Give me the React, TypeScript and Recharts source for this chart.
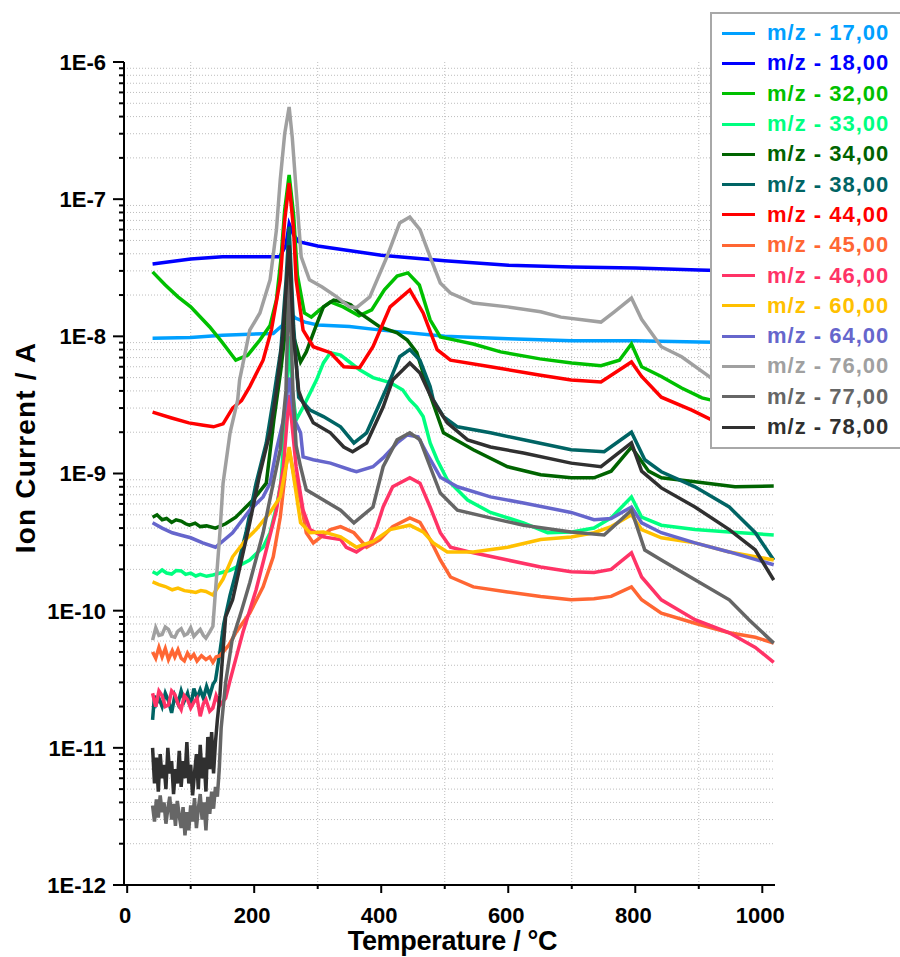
import React from "react";
import {
  CartesianGrid,
  Label,
  Legend,
  Line,
  LineChart,
  XAxis,
  YAxis,
} from "recharts";

// [temperature °C, ion current A]
const mz17 = [[40, 9.7e-9], [100, 9.8e-9], [150, 1.02e-8], [230, 1.05e-8], [245, 1.21e-8], [255, 1.5e-8], [265, 1.36e-8], [280, 1.27e-8], [300, 1.21e-8], [350, 1.18e-8], [400, 1.11e-8], [500, 1.0e-8], [600, 9.6e-9], [700, 9.3e-9], [800, 9.3e-9], [900, 9.1e-9], [1018, 8.9e-9]];
const mz18 = [[40, 3.37e-8], [100, 3.66e-8], [150, 3.8e-8], [240, 3.8e-8], [250, 4.6e-8], [255, 6.6e-8], [262, 5.5e-8], [270, 4.9e-8], [300, 4.56e-8], [400, 3.9e-8], [500, 3.55e-8], [600, 3.3e-8], [700, 3.2e-8], [800, 3.15e-8], [900, 3.05e-8], [1018, 2.95e-8]];
const mz32 = [[40, 2.95e-8], [60, 2.37e-8], [80, 1.94e-8], [100, 1.64e-8], [130, 1.17e-8], [150, 9.0e-9], [171, 6.7e-9], [190, 7.3e-9], [209, 9.4e-9], [225, 1.2e-8], [235, 1.84e-8], [242, 3.6e-8], [248, 8.3e-8], [255, 1.5e-7], [262, 7.7e-8], [268, 2.8e-8], [279, 1.48e-8], [290, 1.38e-8], [303, 1.56e-8], [320, 1.78e-8], [340, 1.64e-8], [365, 1.41e-8], [385, 1.56e-8], [405, 2.18e-8], [425, 2.75e-8], [442, 2.9e-8], [460, 2.37e-8], [477, 1.32e-8], [493, 9.9e-9], [520, 9.3e-9], [545, 8.8e-9], [588, 7.7e-9], [650, 6.85e-9], [700, 6.4e-9], [746, 6.1e-9], [775, 6.7e-9], [794, 8.8e-9], [810, 6.0e-9], [841, 5.1e-9], [873, 4.2e-9], [905, 3.56e-9], [960, 3.1e-9], [1018, 2.7e-9]];
const mz33 = [[40, 1.92e-10], [47, 1.85e-10], [55, 1.98e-10], [62, 1.88e-10], [70, 1.85e-10], [77, 1.96e-10], [85, 1.95e-10], [92, 1.84e-10], [100, 1.88e-10], [108, 1.79e-10], [115, 1.84e-10], [125, 1.78e-10], [135, 1.82e-10], [162, 1.97e-10], [193, 2.34e-10], [214, 2.9e-10], [225, 3.7e-10], [235, 5.7e-10], [242, 8.5e-10], [250, 3e-9], [255, 1.0e-8], [260, 4e-9], [266, 2.46e-9], [277, 3.05e-9], [298, 4.8e-9], [309, 6.4e-9], [320, 7.6e-9], [336, 7.3e-9], [350, 6.5e-9], [366, 5.7e-9], [387, 5.0e-9], [414, 4.6e-9], [434, 4.06e-9], [445, 3.44e-9], [456, 3.05e-9], [466, 2.6e-9], [477, 1.67e-9], [488, 1.26e-9], [504, 9.0e-10], [536, 6.4e-10], [572, 5.2e-10], [624, 4.37e-10], [662, 3.7e-10], [700, 3.75e-10], [735, 4.0e-10], [762, 4.75e-10], [794, 6.75e-10], [810, 4.8e-10], [841, 4.2e-10], [894, 3.9e-10], [948, 3.75e-10], [1018, 3.56e-10]];
const mz34 = [[40, 4.8e-10], [47, 5.0e-10], [55, 4.6e-10], [62, 4.7e-10], [70, 4.4e-10], [77, 4.6e-10], [85, 4.5e-10], [92, 4.3e-10], [98, 4.2e-10], [107, 4.35e-10], [115, 4.1e-10], [125, 4.15e-10], [139, 4.0e-10], [155, 4.3e-10], [171, 4.8e-10], [198, 6.4e-10], [219, 8.5e-10], [231, 2.46e-9], [242, 5.7e-9], [250, 1.2e-8], [255, 2.5e-8], [262, 1.0e-8], [273, 6.5e-9], [282, 7.7e-9], [298, 1.21e-8], [309, 1.64e-8], [325, 1.84e-8], [340, 1.78e-8], [352, 1.7e-8], [366, 1.48e-8], [398, 1.17e-8], [425, 1.06e-8], [441, 9.4e-9], [456, 7.6e-9], [477, 3.74e-9], [498, 1.98e-9], [545, 1.49e-9], [599, 1.12e-9], [651, 9.8e-10], [699, 9.3e-10], [735, 9.3e-10], [762, 1.04e-9], [794, 1.56e-9], [821, 1.04e-9], [841, 9.3e-10], [894, 8.7e-10], [957, 8.0e-10], [1018, 8.1e-10]];
const mz38 = [[40, 1.6e-11], [43, 2.4e-11], [46, 2.1e-11], [50, 2.3e-11], [55, 2.0e-11], [60, 2.5e-11], [65, 2.2e-11], [70, 1.8e-11], [75, 2.4e-11], [80, 2.1e-11], [85, 2.6e-11], [90, 2.2e-11], [95, 2.5e-11], [100, 2.0e-11], [105, 2.7e-11], [110, 2.3e-11], [115, 2.65e-11], [120, 2.3e-11], [125, 2.8e-11], [130, 2.4e-11], [135, 2.9e-11], [139, 3.1e-11], [146, 5e-11], [152, 8e-11], [162, 1.3e-10], [170, 1.8e-10], [187, 3.7e-10], [203, 8.5e-10], [219, 1.67e-9], [230, 3.44e-9], [242, 8e-9], [250, 2.5e-8], [255, 6.3e-8], [262, 1.2e-8], [270, 3.6e-9], [288, 2.9e-9], [309, 2.6e-9], [336, 2.19e-9], [357, 1.67e-9], [377, 1.98e-9], [393, 2.9e-9], [414, 4.8e-9], [429, 7.1e-9], [445, 8.0e-9], [461, 6.7e-9], [477, 4.3e-9], [482, 3.44e-9], [498, 2.6e-9], [520, 2.19e-9], [572, 1.98e-9], [624, 1.76e-9], [699, 1.49e-9], [751, 1.44e-9], [794, 2.0e-9], [815, 1.26e-9], [841, 1.03e-9], [894, 8.0e-10], [948, 5.7e-10], [989, 3.7e-10], [1018, 2.34e-10]];
const mz44 = [[40, 2.8e-9], [70, 2.54e-9], [97, 2.34e-9], [120, 2.25e-9], [136, 2.19e-9], [151, 2.3e-9], [166, 3.0e-9], [180, 3.4e-9], [193, 4.3e-9], [214, 6.7e-9], [227, 1.11e-8], [241, 2.58e-8], [248, 7.0e-8], [255, 1.31e-7], [262, 6e-8], [266, 2.58e-8], [277, 1.11e-8], [293, 8.4e-9], [320, 7.6e-9], [341, 6.0e-9], [366, 5.9e-9], [387, 8.4e-9], [414, 1.64e-8], [445, 2.18e-8], [466, 1.48e-8], [488, 8.0e-9], [509, 6.7e-9], [572, 6.0e-9], [651, 5.2e-9], [699, 4.8e-9], [746, 4.65e-9], [794, 6.5e-9], [810, 5.1e-9], [841, 3.6e-9], [889, 2.9e-9], [920, 2.46e-9], [1018, 2.0e-9]];
const mz45 = [[40, 5.0e-11], [45, 4.5e-11], [50, 5.4e-11], [55, 4.6e-11], [60, 5.3e-11], [65, 4.4e-11], [71, 5.1e-11], [75, 4.6e-11], [80, 5.2e-11], [85, 4.5e-11], [90, 4.3e-11], [95, 4.9e-11], [100, 4.5e-11], [105, 4.8e-11], [110, 4.3e-11], [117, 4.7e-11], [124, 4.4e-11], [130, 4.6e-11], [135, 4.2e-11], [140, 4.6e-11], [146, 4.7e-11], [160, 5.6e-11], [171, 6.9e-11], [193, 9.6e-11], [214, 1.49e-10], [230, 2.47e-10], [241, 4.8e-10], [250, 1.12e-9], [255, 1.5e-9], [262, 1.0e-9], [273, 6.4e-10], [282, 3.7e-10], [293, 3.12e-10], [320, 3.9e-10], [336, 4.1e-10], [357, 3.7e-10], [377, 2.9e-10], [398, 3.3e-10], [418, 4.1e-10], [445, 4.75e-10], [461, 4.4e-10], [477, 3.3e-10], [493, 2.34e-10], [509, 1.76e-10], [545, 1.49e-10], [599, 1.37e-10], [651, 1.27e-10], [699, 1.2e-10], [735, 1.22e-10], [762, 1.27e-10], [794, 1.49e-10], [810, 1.2e-10], [841, 9.6e-11], [894, 8.1e-11], [948, 6.9e-11], [989, 6.4e-11], [1018, 5.8e-11]];
const mz46 = [[40, 2.5e-11], [45, 2.0e-11], [50, 2.6e-11], [55, 2.4e-11], [60, 2.0e-11], [65, 2.05e-11], [70, 2.6e-11], [75, 2.45e-11], [80, 2.1e-11], [85, 1.9e-11], [90, 2.4e-11], [95, 2.25e-11], [100, 1.95e-11], [105, 2.15e-11], [110, 2.3e-11], [115, 1.7e-11], [120, 2.1e-11], [124, 2.25e-11], [130, 1.85e-11], [135, 1.95e-11], [140, 2.4e-11], [146, 2.05e-11], [155, 2.3e-11], [162, 3.1e-11], [182, 6.9e-11], [203, 1.42e-10], [219, 2.77e-10], [235, 5.4e-10], [246, 1.12e-9], [255, 3.74e-9], [266, 1.12e-9], [277, 5.4e-10], [288, 3.9e-10], [309, 3.45e-10], [336, 3.3e-10], [345, 2.9e-10], [361, 2.68e-10], [382, 3.12e-10], [393, 4.1e-10], [403, 5.7e-10], [418, 8.0e-10], [445, 9.3e-10], [461, 8.5e-10], [477, 5.7e-10], [493, 3.7e-10], [509, 2.9e-10], [545, 2.64e-10], [599, 2.34e-10], [651, 2.08e-10], [699, 1.92e-10], [735, 1.9e-10], [762, 2.0e-10], [794, 2.64e-10], [810, 1.76e-10], [841, 1.2e-10], [894, 8.6e-11], [948, 6.9e-11], [989, 5.4e-11], [1018, 4.2e-11]];
const mz60 = [[40, 1.62e-10], [50, 1.55e-10], [60, 1.5e-10], [71, 1.42e-10], [80, 1.46e-10], [90, 1.4e-10], [100, 1.38e-10], [108, 1.36e-10], [116, 1.4e-10], [124, 1.38e-10], [135, 1.3e-10], [151, 1.7e-10], [166, 2.47e-10], [187, 3.3e-10], [203, 3.9e-10], [225, 5.2e-10], [241, 6.75e-10], [250, 1.12e-9], [255, 1.56e-9], [266, 7.2e-10], [273, 4.37e-10], [288, 3.7e-10], [309, 3.75e-10], [336, 3.45e-10], [361, 2.9e-10], [387, 3.2e-10], [414, 3.9e-10], [445, 4.2e-10], [466, 3.75e-10], [482, 3.12e-10], [504, 2.68e-10], [545, 2.68e-10], [599, 2.9e-10], [651, 3.3e-10], [699, 3.45e-10], [735, 3.7e-10], [762, 4.1e-10], [794, 5.0e-10], [810, 3.9e-10], [841, 3.4e-10], [894, 3.12e-10], [948, 2.68e-10], [1018, 2.34e-10]];
const mz64 = [[40, 4.37e-10], [55, 4.0e-10], [71, 3.7e-10], [85, 3.55e-10], [100, 3.4e-10], [119, 3.12e-10], [139, 2.9e-10], [166, 3.7e-10], [193, 5.4e-10], [214, 6.75e-10], [225, 8.5e-10], [235, 1.49e-9], [246, 2.46e-9], [255, 5e-9], [263, 2.5e-9], [273, 1.98e-9], [277, 1.32e-9], [293, 1.26e-9], [320, 1.19e-9], [352, 1.06e-9], [361, 1.03e-9], [387, 1.12e-9], [403, 1.3e-9], [425, 1.67e-9], [441, 1.91e-9], [458, 1.85e-9], [472, 1.4e-9], [493, 9.4e-10], [520, 8.0e-10], [572, 6.75e-10], [624, 6.1e-10], [699, 5.2e-10], [735, 4.6e-10], [762, 4.7e-10], [794, 5.7e-10], [810, 4.37e-10], [841, 3.7e-10], [894, 3.12e-10], [948, 2.68e-10], [1018, 2.16e-10]];
const mz76 = [[40, 6.1e-11], [45, 7.5e-11], [50, 6.6e-11], [55, 6.7e-11], [60, 7.6e-11], [65, 7.3e-11], [70, 6.5e-11], [75, 6.4e-11], [80, 7.1e-11], [85, 7.4e-11], [90, 6.6e-11], [95, 6.8e-11], [100, 7.5e-11], [105, 6.5e-11], [110, 6.9e-11], [115, 7.3e-11], [120, 6.6e-11], [124, 6.3e-11], [130, 7.0e-11], [135, 7.7e-11], [138, 1.2e-10], [146, 3.7e-10], [151, 8.5e-10], [162, 1.98e-9], [174, 3.44e-9], [177, 4.8e-9], [193, 1.11e-8], [209, 1.48e-8], [225, 2.58e-8], [235, 5.97e-8], [241, 1.38e-7], [248, 3e-7], [255, 4.7e-7], [260, 2.8e-7], [266, 1.17e-7], [274, 3.8e-8], [287, 2.58e-8], [307, 2.29e-8], [330, 1.94e-8], [350, 1.64e-8], [361, 1.62e-8], [382, 1.94e-8], [409, 3.8e-8], [429, 6.7e-8], [445, 7.4e-8], [461, 6.0e-8], [477, 3.8e-8], [493, 2.45e-8], [509, 2.07e-8], [545, 1.75e-8], [599, 1.64e-8], [651, 1.51e-8], [683, 1.38e-8], [746, 1.27e-8], [767, 1.51e-8], [794, 1.9e-8], [810, 1.33e-8], [841, 8.4e-9], [873, 7.1e-9], [916, 5.1e-9], [960, 3.5e-9], [1018, 2.4e-9]];
const mz77 = [[40, 3.8e-12], [43, 2.9e-12], [46, 4.2e-12], [49, 3.1e-12], [52, 4.5e-12], [55, 3.4e-12], [58, 4.0e-12], [61, 2.8e-12], [64, 3.6e-12], [67, 4.4e-12], [70, 3.0e-12], [73, 3.9e-12], [76, 2.7e-12], [79, 4.1e-12], [82, 3.2e-12], [85, 2.6e-12], [88, 3.7e-12], [91, 2.3e-12], [94, 3.4e-12], [97, 2.5e-12], [100, 3.8e-12], [103, 2.9e-12], [106, 4.3e-12], [109, 2.6e-12], [112, 3.6e-12], [115, 4.6e-12], [118, 3.0e-12], [121, 4.0e-12], [124, 2.5e-12], [127, 4.4e-12], [130, 3.3e-12], [133, 4.8e-12], [136, 3.6e-12], [139, 5.2e-12], [142, 4.4e-12], [145, 7e-12], [148, 1.4e-11], [155, 3.0e-11], [165, 6e-11], [180, 1.0e-10], [193, 1.6e-10], [214, 3.7e-10], [230, 8.5e-10], [241, 1.49e-9], [250, 4e-9], [255, 3e-8], [261, 4e-9], [266, 1.6e-9], [273, 1.12e-9], [282, 7.6e-10], [309, 6.4e-10], [336, 5.4e-10], [357, 4.37e-10], [387, 5.7e-10], [403, 1.12e-9], [425, 1.76e-9], [445, 1.98e-9], [461, 1.76e-9], [477, 1.12e-9], [493, 7.2e-10], [520, 5.4e-10], [572, 4.75e-10], [624, 4.2e-10], [699, 3.75e-10], [751, 3.56e-10], [794, 5.4e-10], [815, 2.77e-10], [841, 2.34e-10], [894, 1.68e-10], [948, 1.2e-10], [979, 8.6e-11], [1018, 5.8e-11]];
const mz78 = [[40, 1.0e-11], [43, 5.5e-12], [46, 8.5e-12], [49, 4.8e-12], [52, 9e-12], [55, 6e-12], [58, 7.5e-12], [61, 5e-12], [64, 1.0e-11], [67, 6.5e-12], [70, 8e-12], [73, 4.6e-12], [76, 7e-12], [79, 5.5e-12], [82, 9.5e-12], [85, 5.2e-12], [88, 8e-12], [91, 6e-12], [94, 1.1e-11], [97, 5.5e-12], [100, 7.5e-12], [103, 4.5e-12], [106, 6.5e-12], [109, 9e-12], [112, 5e-12], [115, 1.05e-11], [118, 6e-12], [121, 8.5e-12], [124, 4.8e-12], [127, 1.2e-11], [130, 7e-12], [133, 1.3e-11], [136, 6.5e-12], [139, 1.1e-11], [142, 1.6e-11], [146, 2.4e-11], [149, 3.9e-11], [155, 9.0e-11], [166, 1.2e-10], [193, 4.37e-10], [209, 1.0e-9], [225, 2.0e-9], [235, 4e-9], [245, 1.0e-8], [251, 2.5e-8], [255, 4.6e-8], [262, 1.0e-8], [270, 4.0e-9], [277, 3.27e-9], [293, 2.34e-9], [320, 1.98e-9], [341, 1.56e-9], [355, 1.44e-9], [377, 1.67e-9], [403, 3.05e-9], [418, 4.8e-9], [445, 6.4e-9], [461, 5.4e-9], [477, 3.74e-9], [488, 3.05e-9], [504, 2.34e-9], [536, 1.76e-9], [572, 1.56e-9], [624, 1.41e-9], [699, 1.19e-9], [746, 1.12e-9], [794, 1.67e-9], [810, 1.04e-9], [841, 7.85e-10], [894, 5.7e-10], [948, 3.9e-10], [989, 2.77e-10], [1018, 1.67e-10]];

const series = [
  { name: "m/z - 17,00", color: "#00a0ff", data: mz17 },
  { name: "m/z - 18,00", color: "#0000ff", data: mz18 },
  { name: "m/z - 32,00", color: "#00c000", data: mz32 },
  { name: "m/z - 33,00", color: "#00ff80", data: mz33 },
  { name: "m/z - 34,00", color: "#006400", data: mz34 },
  { name: "m/z - 38,00", color: "#006464", data: mz38 },
  { name: "m/z - 44,00", color: "#ff0000", data: mz44 },
  { name: "m/z - 45,00", color: "#ff6633", data: mz45 },
  { name: "m/z - 46,00", color: "#ff3366", data: mz46 },
  { name: "m/z - 60,00", color: "#ffc000", data: mz60 },
  { name: "m/z - 64,00", color: "#6666cc", data: mz64 },
  { name: "m/z - 76,00", color: "#a0a0a0", data: mz76 },
  { name: "m/z - 77,00", color: "#666666", data: mz77 },
  { name: "m/z - 78,00", color: "#303030", data: mz78 },
];

const decades = [1e-12, 1e-11, 1e-10, 1e-9, 1e-8, 1e-7, 1e-6];
const minorSteps = [2, 3, 4, 5, 6, 7, 8, 9];
const minorValues = decades.slice(0, -1).flatMap((d) => minorSteps.map((k) => k * d));
const yTicks = [...decades, ...minorValues];
const xTicks = [0, 100, 200, 300, 400, 500, 600, 700, 800, 900, 1000];
const xGrid = [100, 300, 500, 700, 900];

const FONT = "'Liberation Sans', Arial, sans-serif";

const YTick = (props: any) => {
  const { x, y, payload } = props;
  const v = payload.value;
  const e = Math.round(Math.log10(v));
  const major = Math.abs(v / Math.pow(10, e) - 1) < 1e-6;
  // x is the label anchor: axis - tickSize(11) - tickMargin(7)
  return (
    <g>
      <line x1={x + 7 + (major ? 0 : 6)} x2={x + 18} y1={y} y2={y} stroke="#000" strokeWidth={2} />
      {major && (
        <text x={x} y={y} dy="0.36em" textAnchor="end" fontFamily={FONT} fontWeight={700} fontSize={22} fill="#000">
          {`1E${e}`}
        </text>
      )}
    </g>
  );
};

const XTick = (props: any) => {
  const { x, y, payload } = props;
  const v = payload.value;
  const major = v % 200 === 0;
  const axisY = y - 22;
  return (
    <g>
      <line x1={x} x2={x} y1={axisY} y2={axisY + (major ? 8 : 4)} stroke="#000" strokeWidth={2} />
      {major && (
        <text x={x - 2} y={y + 16} textAnchor="middle" fontFamily={FONT} fontWeight={700} fontSize={22} fill="#000">
          {v}
        </text>
      )}
    </g>
  );
};

const renderLegend = (props: any) => {
  const items = props.payload || [];
  return (
    <div
      style={{
        boxSizing: "border-box",
        width: 200,
        height: 437,
        border: "2px solid #a8a8a8",
        background: "#fff",
        paddingTop: 4,
      }}
    >
      {items.map((it: any) => (
        <div key={it.value} style={{ display: "flex", alignItems: "center", height: 30.3 }}>
          <span style={{ display: "inline-block", width: 33, height: 3, background: it.color, marginLeft: 10 }} />
          <span
            style={{
              marginLeft: 12,
              color: it.color,
              fontFamily: FONT,
              fontWeight: 700,
              fontSize: 22,
              letterSpacing: 1,
              whiteSpace: "pre",
              lineHeight: "24px",
            }}
          >
            {it.value}
          </span>
        </div>
      ))}
    </div>
  );
};

export default function App() {
  return (
    <div style={{ position: "absolute", left: 0, top: 0, width: 900, height: 957, overflow: "hidden", background: "#fff" }}>
      <LineChart width={900} height={957} margin={{ top: 62, right: 125, bottom: 2, left: 10 }}>
        <CartesianGrid
          horizontalValues={minorValues}
          verticalValues={xGrid}
          stroke="#bdbdbd"
          strokeDasharray="1 2"
        />
        <XAxis
          type="number"
          dataKey="t"
          domain={[-5, 1020]}
          allowDataOverflow
          ticks={xTicks}
          interval={0}
          tick={<XTick />}
          tickLine={false}
          tickSize={8}
          tickMargin={14}
          height={70}
          axisLine={{ stroke: "#000", strokeWidth: 2 }}
        >
          <Label
            content={(p: any) => {
              const vb = p.viewBox || {};
              return (
                <text
                  x={vb.x + vb.width / 2 + 3}
                  y={vb.y + 65}
                  textAnchor="middle"
                  fontFamily={FONT}
                  fontWeight={700}
                  fontSize={27}
                  letterSpacing={-0.3}
                  fill="#000"
                >
                  Temperature / °C
                </text>
              );
            }}
          />
        </XAxis>
        <YAxis
          type="number"
          scale="log"
          domain={[1e-12, 1e-6]}
          allowDataOverflow
          ticks={yTicks}
          interval={0}
          tick={<YTick />}
          tickLine={false}
          tickSize={11}
          tickMargin={7}
          width={114}
          axisLine={{ stroke: "#000", strokeWidth: 2 }}
        >
          <Label
            content={(p: any) => {
              const vb = p.viewBox || {};
              const cx = vb.x + 15;
              const cy = vb.y + vb.height / 2 - 26;
              return (
                <text
                  x={cx}
                  y={cy}
                  dy="0.36em"
                  transform={`rotate(-90 ${cx} ${cy})`}
                  textAnchor="middle"
                  fontFamily={FONT}
                  fontWeight={700}
                  fontSize={28}
                  letterSpacing={1.2}
                  fill="#000"
                >
                  Ion Current / A
                </text>
              );
            }}
          />
        </YAxis>
        <Legend
          layout="vertical"
          align="center"
          verticalAlign="middle"
          content={renderLegend}
          wrapperStyle={{ left: 710, top: 12, width: 200 }}
        />
        {series.map((s) => (
          <Line
            key={s.name}
            name={s.name}
            data={s.data.map(([t, v]) => ({ t, v }))}
            dataKey="v"
            type="linear"
            stroke={s.color}
            strokeWidth={3.5}
            dot={false}
            activeDot={false}
            isAnimationActive={false}
          />
        ))}
      </LineChart>
    </div>
  );
}
